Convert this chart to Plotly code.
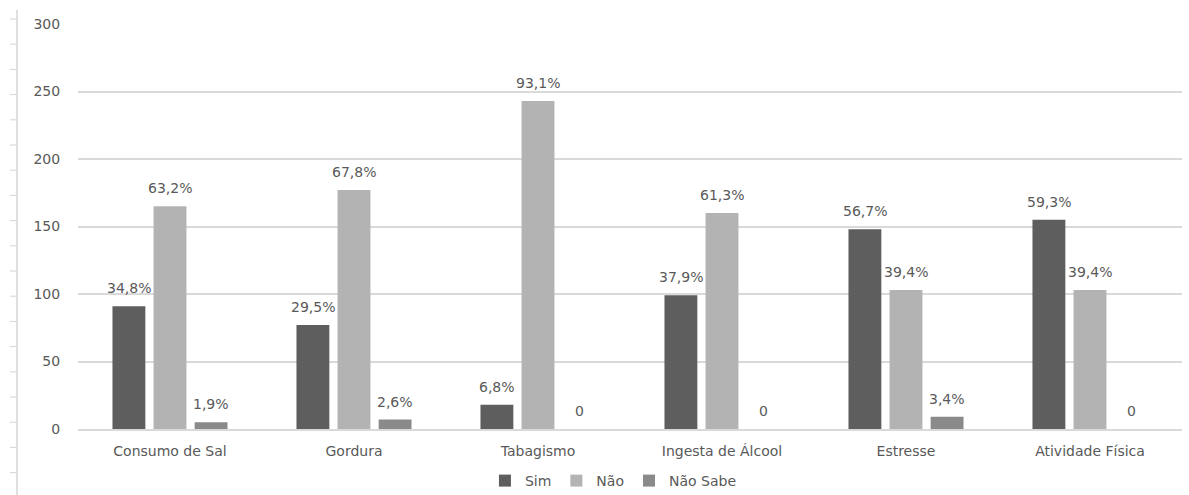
import plotly.graph_objects as go

categories = ["Consumo de Sal", "Gordura", "Tabagismo", "Ingesta de Álcool", "Estresse", "Atividade Física"]
series_names = ["Sim", "Não", "Não Sabe"]
sim = [91, 77, 18, 99, 148, 155]
nao = [165, 177, 243, 160, 103, 103]
nao_sabe = [5, 7, 0, 0, 9, 0]
sim_labels = ["34,8%", "29,5%", "6,8%", "37,9%", "56,7%", "59,3%"]
nao_labels = ["63,2%", "67,8%", "93,1%", "61,3%", "39,4%", "39,4%"]
nao_sabe_labels = ["1,9%", "2,6%", "0", "0", "3,4%", "0"]
y_ticks = [0, 50, 100, 150, 200, 250, 300]

colors = ["#5e5e5e", "#b3b3b3", "#8a8a8a"]
text_color = "#595959"
font_family = "DejaVu Sans"

W, H = 1189, 495
ML, MR, MT, MB = 78, 7, 24, 66
BARGAP = 0.33
BARGROUPGAP = 0.2

fig = go.Figure()
all_vals = [sim, nao, nao_sabe]
all_labels = [sim_labels, nao_labels, nao_sabe_labels]
for name, vals, col in zip(series_names, all_vals, colors):
    fig.add_trace(go.Bar(name=name, x=categories, y=vals, marker_color=col,
                         marker_line_width=0))

plot_w = W - ML - MR
plot_h = H - MT - MB
slot = plot_w / len(categories) * (1 - BARGAP) / len(series_names)
for i, (vals, labels) in enumerate(zip(all_vals, all_labels)):
    for c, v, t in zip(categories, vals, labels):
        fig.add_annotation(x=c, y=v, text=t, showarrow=False, xref="x", yref="y",
                           xshift=(i - 1) * slot, yanchor="bottom", yshift=8,
                           font=dict(family=font_family, size=14, color=text_color))

# left ruler decoration
def px_x(xp):
    return (xp - ML) / plot_w
def px_y(yp):
    return (H - MB - yp) / plot_h

ruler_col = "#d4d4d4"
fig.add_shape(type="line", xref="paper", yref="paper", x0=px_x(17), x1=px_x(17),
              y0=px_y(10), y1=px_y(495), line=dict(color=ruler_col, width=1.5))
for k in range(19):
    yp = 19 + 25.2 * k
    fig.add_shape(type="line", xref="paper", yref="paper", x0=px_x(10), x1=px_x(17),
                  y0=px_y(yp), y1=px_y(yp), line=dict(color=ruler_col, width=1))

fig.update_layout(
    width=W, height=H,
    margin=dict(l=ML, r=MR, t=MT, b=MB, autoexpand=False),
    barmode="group", bargap=BARGAP, bargroupgap=BARGROUPGAP,
    plot_bgcolor="white", paper_bgcolor="white",
    font=dict(family=font_family, size=14, color=text_color),
    showlegend=True,
    legend=dict(orientation="h", x=0.485, xanchor="center",
                y=-(481 - (H - MB)) / plot_h, yanchor="middle",
                font=dict(family=font_family, size=14, color=text_color),
                itemwidth=30, traceorder="normal"),
    xaxis=dict(showline=True, linecolor="#d9d9d9", linewidth=1.5, automargin=False,
               ticks="outside", ticklen=8, tickcolor="rgba(0,0,0,0)",
               tickfont=dict(family=font_family, size=14, color=text_color)),
    yaxis=dict(range=[0, 300], tickvals=y_ticks, showgrid=True, gridcolor="#d9d9d9",
               gridwidth=1.5, zeroline=False, showline=False, automargin=False,
               ticks="outside", ticklen=14, tickcolor="rgba(0,0,0,0)",
               tickfont=dict(family=font_family, size=14, color=text_color)),
)

fig.write_html("out.html")
